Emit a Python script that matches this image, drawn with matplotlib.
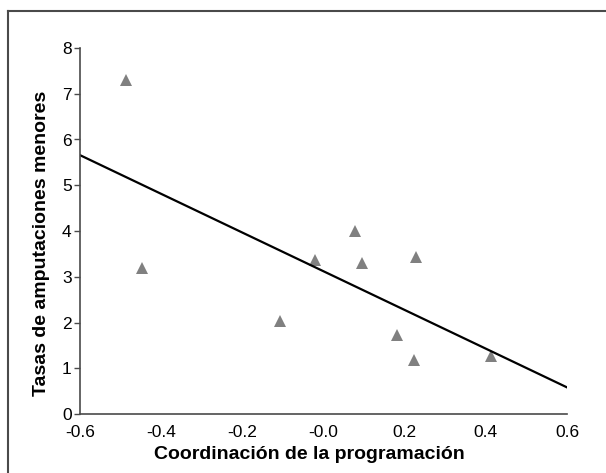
import matplotlib
matplotlib.use("Agg")
import matplotlib.pyplot as plt
import numpy as np
from matplotlib.lines import Line2D

plt.rcParams['font.family'] = ['Liberation Sans', 'DejaVu Sans']

# datos
coordinacion = [-0.486, -0.447, -0.106, -0.022, 0.078, 0.096, 0.182, 0.224, 0.228, 0.413]
tasas = [7.29, 3.19, 2.04, 3.37, 3.99, 3.30, 1.73, 1.17, 3.43, 1.27]
fit_intercept = 3.12
fit_slope = -4.23
x_ticks = [-0.6, -0.4, -0.2, 0.0, 0.2, 0.4, 0.6]
x_labels = ["-0.6", "-0.4", "-0.2", "-0.0", "0.2", "0.4", "0.6"]
y_ticks = [0, 1, 2, 3, 4, 5, 6, 7, 8]

fig = plt.figure(figsize=(6.06, 4.73), dpi=100)
ax = fig.add_axes([80/606, 1 - 414/473, (567 - 80)/606, (414 - 48)/473])

# marco exterior (solo izquierda y arriba visibles)
frame_col = "#4a4a4a"
fig.add_artist(Line2D([8/606, 8/606], [0, 1 - 11/473], transform=fig.transFigure,
                      color=frame_col, lw=1.5))
fig.add_artist(Line2D([8/606, 1], [1 - 11/473, 1 - 11/473], transform=fig.transFigure,
                      color=frame_col, lw=1.5))

ax.plot(coordinacion, tasas, linestyle="none", marker="^", markersize=9,
        color="#808080", markeredgewidth=0, clip_on=False)

xs = np.array([x_ticks[0], x_ticks[-1]])
ax.plot(xs, fit_intercept + fit_slope * xs, color="black", lw=1.6)

ax.set_xlim(x_ticks[0], x_ticks[-1])
ax.set_ylim(0, 8)
ax.set_xticks(x_ticks)
ax.set_xticklabels(x_labels)
ax.set_yticks(y_ticks)

for s in ["top", "right"]:
    ax.spines[s].set_visible(False)
for s in ["left", "bottom"]:
    ax.spines[s].set_color("#4a4a4a")
    ax.spines[s].set_linewidth(1.2)

ax.tick_params(axis="y", direction="out", length=4, width=1, color="#4a4a4a",
               labelsize=12.5, pad=2)
ax.tick_params(axis="x", length=0, labelsize=12.5, pad=8)

ax.set_xlabel("Coordinación de la programación", fontsize=14, fontweight="bold", labelpad=4)
ax.set_ylabel("Tasas de amputaciones menores", fontsize=14, fontweight="bold")
ax.xaxis.label.set_x(0.47)
ax.yaxis.set_label_coords(-0.062, 0.467)

fig.savefig("out.png", dpi=100)
